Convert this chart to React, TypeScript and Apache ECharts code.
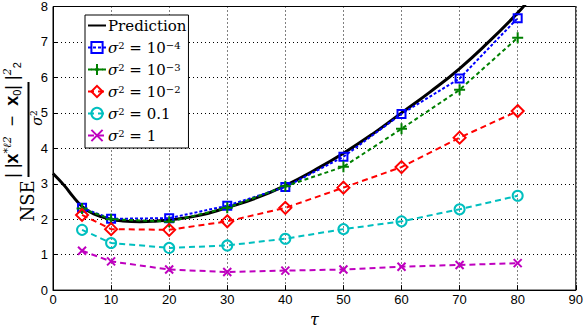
import React, { useEffect, useRef } from "react";
import * as echarts from "echarts";

const tau = [5, 10, 20, 30, 40, 50, 60, 70, 80];
const s1e4 = [2.32, 2.01, 2.03, 2.38, 2.91, 3.76, 4.97, 5.97, 7.67];
const s1e3 = [2.3, 2.0, 1.93, 2.32, 2.93, 3.48, 4.55, 5.65, 7.12];
const s1e2 = [2.12, 1.72, 1.7, 1.94, 2.32, 2.89, 3.47, 4.3, 5.05];
const s01 = [1.7, 1.33, 1.19, 1.26, 1.45, 1.72, 1.94, 2.28, 2.66];
const s1 = [1.11, 0.81, 0.58, 0.51, 0.55, 0.58, 0.66, 0.71, 0.76];

const predTau = [0, 2, 3.5, 5, 7, 10, 12, 15, 18, 20, 25, 30, 35, 40, 45, 50, 55, 60, 65, 70, 75, 80, 82];
const predVal = [3.29, 2.94, 2.63, 2.36, 2.15, 2.0, 1.95, 1.93, 1.95, 1.98, 2.1, 2.33, 2.6, 2.95, 3.38, 3.86, 4.4, 5.0, 5.6, 6.25, 7.0, 7.82, 8.2];

const names = ["Prediction", "s4", "s3", "s2", "s01", "s1"];
const legendLabels: Record<string, string> = {
  Prediction: "{t|Prediction}",
  s4: "{i|σ}{p|2}{t| = 10}{p|−4}",
  s3: "{i|σ}{p|2}{t| = 10}{p|−3}",
  s2: "{i|σ}{p|2}{t| = 10}{p|−2}",
  s01: "{i|σ}{p|2}{t| = 0.1}",
  s1: "{i|σ}{p|2}{t| = 1}",
};

const pair = (xs: number[], ys: number[]) => xs.map((x, i) => [x, ys[i]]);

const PLUS = "path://M5,0L5,10M0,5L10,5";
const CROSS = "path://M0,0L10,10M10,0L0,10";

function mk(name: string, data: number[], color: string, symbol: string, size: number, dash: number[]) {
  return {
    name,
    type: "line",
    data: pair(tau, data),
    symbol,
    symbolSize: size,
    showSymbol: true,
    lineStyle: { color, width: 2, type: dash },
    itemStyle: { color: "rgba(0,0,0,0)", borderColor: color, borderWidth: 2 },
    z: 3,
  };
}

const SERIF = "DejaVu Serif";
const SANS = "Liberation Sans";

export default function App() {
  const ref = useRef<HTMLDivElement>(null);
  useEffect(() => {
    if (!ref.current) return;
    const chart = echarts.init(ref.current, undefined, { renderer: "svg" });
    const tickFont = { fontFamily: SANS, fontSize: 13, color: "#000" };
    chart.setOption({
      animation: false,
      backgroundColor: "#fff",
      grid: { left: 53, right: 8, top: 3, bottom: 28, show: true, borderColor: "#000", borderWidth: 1, backgroundColor: "transparent" },
      xAxis: {
        type: "value",
        min: 0,
        max: 90,
        interval: 10,
        name: "τ",
        nameLocation: "middle",
        nameGap: 16,
        nameTextStyle: { fontFamily: SERIF, fontStyle: "italic", fontSize: 16, color: "#000" },
        axisLine: { lineStyle: { color: "#000" } },
        axisTick: { inside: true, length: 5, lineStyle: { color: "#000" } },
        axisLabel: { ...tickFont, margin: 3 },
        splitLine: { show: true, lineStyle: { color: "#000", type: [1, 3], width: 1 } },
      },
      yAxis: {
        type: "value",
        min: 0,
        max: 8,
        interval: 1,
        axisLine: { show: true, lineStyle: { color: "#000" } },
        axisTick: { show: true, inside: true, length: 5, lineStyle: { color: "#000" } },
        axisLabel: { ...tickFont, margin: 5 },
        splitLine: { show: true, lineStyle: { color: "#000", type: [1, 3], width: 1 } },
      },
      legend: {
        orient: "vertical",
        left: 85,
        top: 15,
        data: names.map((n) =>
          n === "Prediction" ? { name: n, itemStyle: { opacity: 0 } } : { name: n }
        ),
        backgroundColor: "#fff",
        borderColor: "#000",
        borderWidth: 1,
        borderRadius: 0,
        padding: [3, 2, 5, 2],
        itemGap: 7,
        itemWidth: 18,
        itemHeight: 14,
        formatter: (n: string) => legendLabels[n],
        textStyle: {
          color: "#000",
          fontFamily: SERIF,
          fontSize: 15,
          padding: [0, 0, 0, -3],
          rich: {
            t: { fontFamily: SERIF, fontSize: 15, color: "#000" },
            i: { fontFamily: SERIF, fontSize: 15, fontStyle: "italic", color: "#000" },
            p: { fontFamily: SERIF, fontSize: 10, color: "#000", verticalAlign: "top", lineHeight: 15 },
          },
        },
      },
      series: [
        {
          name: "Prediction",
          type: "line",
          data: pair(predTau, predVal),
          smooth: true,
          symbol: "none",
          lineStyle: { color: "#000", width: 3 },
          itemStyle: { color: "#000" },
          z: 2,
        },
        mk("s4", s1e4, "#0000ff", "rect", 8, [3, 2]),
        mk("s3", s1e3, "#008000", PLUS, 11, [4, 3]),
        mk("s2", s1e2, "#ff0000", "diamond", 12, [6, 4]),
        mk("s01", s01, "#00bfbf", "circle", 10, [6, 4]),
        mk("s1", s1, "#bf00bf", CROSS, 8, [6, 4]),
      ],
      graphic: [
        {
          type: "text",
          x: 27,
          y: 201,
          rotation: Math.PI / 2,
          style: {
            text: "NSE",
            fontFamily: SERIF,
            fontSize: 18,
            fill: "#000",
            align: "center",
            verticalAlign: "middle",
          },
        },
        {
          type: "line",
          shape: { x1: 28.5, y1: 82, x2: 28.5, y2: 177 },
          style: { stroke: "#000", lineWidth: 2 },
        },
        {
          type: "text",
          x: 12,
          y: 120,
          rotation: Math.PI / 2,
          style: {
            text: "{t|| |}{b|x}{s|*}{s|ℓ2}{t|  −  }{b|x}{u|0}{t|| |}{s|2}{u|2}",
            align: "center",
            verticalAlign: "middle",
            fontFamily: SANS,
            fontSize: 18,
            rich: {
              t: { fontFamily: SANS, fontSize: 18, fill: "#000", lineHeight: 20 },
              b: { fontFamily: SANS, fontSize: 18, fontWeight: "bold", fill: "#000", lineHeight: 20 },
              s: { fontFamily: SERIF, fontSize: 11, fontStyle: "italic", fill: "#000", verticalAlign: "top", lineHeight: 20 },
              u: { fontFamily: SANS, fontSize: 11, fill: "#000", verticalAlign: "bottom", lineHeight: 20 },
            },
          },
        },
        {
          type: "text",
          x: 37,
          y: 118,
          rotation: Math.PI / 2,
          style: {
            text: "{i|σ}{p|2}",
            align: "center",
            verticalAlign: "middle",
            rich: {
              i: { fontFamily: SERIF, fontSize: 14, fontStyle: "italic", fill: "#000", lineHeight: 16 },
              p: { fontFamily: SERIF, fontSize: 9, fill: "#000", verticalAlign: "top", lineHeight: 16 },
            },
          },
        },
      ],
    });
    return () => chart.dispose();
  }, []);
  return <div ref={ref} style={{ width: 586, height: 332, position: "absolute", left: 0, top: 0 }} />;
}
